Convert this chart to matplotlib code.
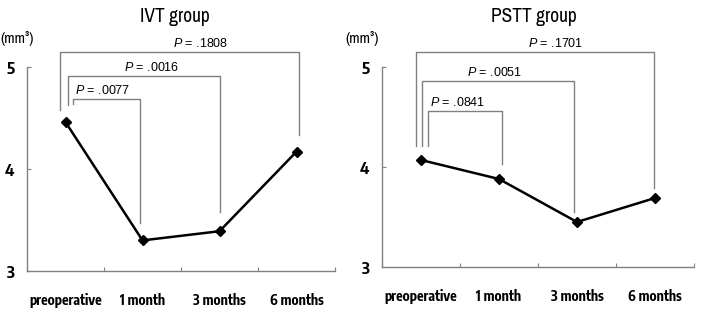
import matplotlib
matplotlib.use("Agg")
import matplotlib.pyplot as plt
from matplotlib import font_manager

names = {f.name for f in font_manager.fontManager.ttflist}
narrow = 'Archivo Narrow' if 'Archivo Narrow' in names else 'Liberation Sans'
boldfam = 'Encode Sans Condensed' if 'Encode Sans Condensed' in names else narrow
plt.rcParams['font.family'] = [narrow, 'DejaVu Sans']
plt.rcParams['mathtext.fontset'] = 'custom'
plt.rcParams['mathtext.it'] = 'Liberation Sans:italic'
plt.rcParams['mathtext.rm'] = 'Liberation Sans'

categories = ['preoperative', '1 month', '3 months', '6 months']
ivt_values = [4.46, 3.30, 3.39, 4.17]
pstt_values = [4.07, 3.88, 3.45, 3.69]
yticks = [3, 4, 5]

ivt_p = ['.0077', '.0016', '.1808']
pstt_p = ['.0841', '.0051', '.1701']
# bracket geometry (x0, x1, top, left_bottom, right_bottom, text_x)
ivt_br = [(0.10, 0.97, 4.69, 4.64, 3.47, 0.48),
          (0.03, 2.00, 4.91, 4.63, 3.58, 1.12),
          (-0.065, 3.03, 5.15, 4.58, 4.33, 1.75)]
pstt_br = [(0.09, 1.04, 4.56, 4.21, 4.03, 0.47),
           (0.01, 1.96, 4.86, 4.21, 3.55, 0.94),
           (-0.06, 2.99, 5.15, 4.21, 3.79, 1.72)]

W, H = 702, 320
fig = plt.figure(figsize=(W / 100, H / 100), dpi=100)
gray = '#808080'

def panel(rect, values, pvals, brs, title, title_x, unit_x):
    ax = fig.add_axes(rect)
    x = list(range(len(categories)))
    ax.plot(x, values, color='black', lw=1.8, marker='D', markersize=5.5, zorder=5)
    ax.set_xlim(-0.5, len(categories) - 0.5)
    ax.set_ylim(3, 5)
    for s in ['top', 'right']:
        ax.spines[s].set_visible(False)
    for s in ['left', 'bottom']:
        ax.spines[s].set_color(gray)
        ax.spines[s].set_linewidth(1)
    ax.set_xticks([i + 0.5 for i in range(-1, len(categories))])
    ax.set_xticklabels([])
    ax.set_xticks(x, minor=True)
    ax.set_xticklabels(categories, minor=True, fontsize=10, fontweight='bold',
                       family=[boldfam, 'DejaVu Sans'])
    ax.tick_params(axis='x', which='major', direction='in', length=3, color=gray)
    ax.tick_params(axis='x', which='minor', length=0, pad=16)
    ax.set_yticks(yticks)
    ax.set_yticklabels([str(v) for v in yticks], fontsize=12, fontweight='bold',
                       family=[boldfam, 'DejaVu Sans'])
    ax.tick_params(axis='y', direction='in', length=3, color=gray, pad=9)
    for p, (x0, x1, top, lb, rb, tx) in zip(pvals, brs):
        ax.plot([x0, x0, x1, x1], [lb, top, top, rb], color=gray, lw=1,
                clip_on=False, zorder=3)
        ax.text(tx, top + 0.02, r'$P$ = ' + p, ha='center', va='bottom',
                fontsize=9, family='Liberation Sans', clip_on=False)
    fig.text(title_x / W, 1 - 17 / H, title, ha='center', va='center', fontsize=14)
    fig.text(unit_x / W, 1 - 38 / H, '(mm³)', ha='left', va='center', fontsize=11)
    return ax

panel([27 / W, 1 - 271 / H, 308 / W, 204 / H], ivt_values, ivt_p, ivt_br,
      'IVT group', 175, 0)
panel([382 / W, 1 - 267 / H, 312 / W, 200 / H], pstt_values, pstt_p, pstt_br,
      'PSTT group', 534, 345)

fig.savefig('out.png', dpi=100)
